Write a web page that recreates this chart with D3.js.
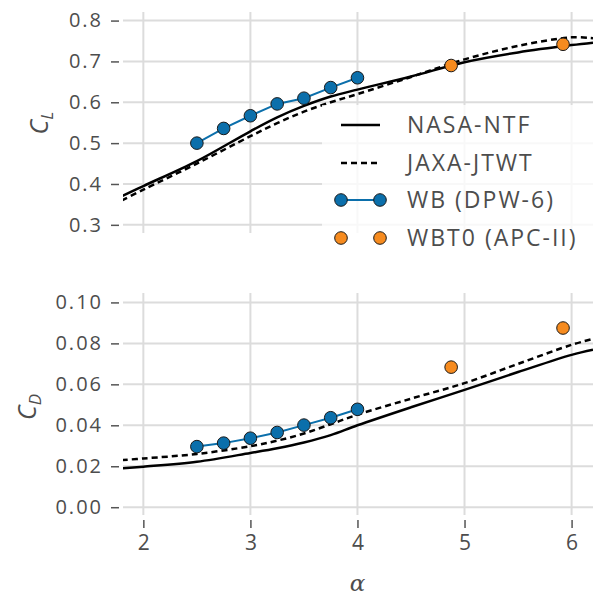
<!DOCTYPE html>
<html>
<head>
<meta charset="utf-8">
<script src="https://d3js.org/d3.v7.min.js"></script>
<style>
  body { margin: 0; background: #fff; }
  text { font-family: "Open Sans", sans-serif; fill: #4d4d4d; }
</style>
</head>
<body>
<script>
// angle of attack grid used by the two tunnel curves
let alphaCurve = [1.8, 2.0, 2.5, 3.0, 3.25, 3.5, 3.75, 4.0, 4.5, 5.0, 5.5, 6.0, 6.2];
let nasaCL = [0.370, 0.395, 0.456, 0.529, 0.563, 0.591, 0.614, 0.631, 0.663, 0.698, 0.722, 0.740, 0.746];
let jaxaCL = [0.360, 0.386, 0.450, 0.517, 0.549, 0.577, 0.600, 0.620, 0.662, 0.705, 0.738, 0.759, 0.757];
let nasaCD = [0.0190, 0.0198, 0.0222, 0.0265, 0.0288, 0.0316, 0.0352, 0.0400, 0.0488, 0.0573, 0.0660, 0.0744, 0.0769];
let jaxaCD = [0.0230, 0.0238, 0.0260, 0.0298, 0.0325, 0.0360, 0.0405, 0.0452, 0.0530, 0.0606, 0.0700, 0.0793, 0.0822];

let alphaWB = [2.5, 2.75, 3.0, 3.25, 3.5, 3.75, 4.0];
let wbCL = [0.500, 0.536, 0.567, 0.596, 0.610, 0.636, 0.660];
let wbCD = [0.0296, 0.0313, 0.0337, 0.0365, 0.0401, 0.0437, 0.0478];

let alphaWBT = [4.875, 5.92];
let wbtCL = [0.690, 0.742];
let wbtCD = [0.0684, 0.0875];

let xTicks = [2, 3, 4, 5, 6];
let clTicks = [0.3, 0.4, 0.5, 0.6, 0.7, 0.8];
let cdTicks = [0.00, 0.02, 0.04, 0.06, 0.08, 0.10];

let legendNames = ["NASA-NTF", "JAXA-JTWT", "WB (DPW-6)", "WBT0 (APC-II)"];

let W = 599, H = 597;
let blue = "#0b6fab", orange = "#f68b1f", grid = "#dcdcdc", tickCol = "#555";

let svg = d3.select("body").append("svg").attr("width", W).attr("height", H);

let x = d3.scaleLinear().domain([1.81, 6.2]).range([123, 593]);

let yCL = d3.scaleLinear().domain([0.28, 0.821]).range([233, 12]);
let yCD = d3.scaleLinear().domain([-0.0038, 0.1046]).range([515, 293]);

function panel(y, ticks, fmt, id, nasa, jaxa, wb, wbt, showX) {
    let g = svg.append("g");
    let [y0, y1] = y.range();

    g.append("clipPath").attr("id", id)
        .append("rect").attr("x", x.range()[0]).attr("y", y1)
        .attr("width", x.range()[1] - x.range()[0]).attr("height", y0 - y1);

    // grid
    g.selectAll(".hg").data(ticks).join("line")
        .attr("x1", x.range()[0]).attr("x2", x.range()[1])
        .attr("y1", d => y(d)).attr("y2", d => y(d))
        .attr("stroke", grid).attr("stroke-width", 2);
    g.selectAll(".vg").data(xTicks).join("line")
        .attr("x1", d => x(d)).attr("x2", d => x(d))
        .attr("y1", y1).attr("y2", y0)
        .attr("stroke", grid).attr("stroke-width", 2);

    // y axis, offset to the left
    let ya = g.append("g").attr("transform", "translate(119,0)")
        .call(d3.axisLeft(y).tickValues(ticks).tickFormat(fmt).tickSize(8).tickPadding(8));
    ya.select(".domain").remove();
    ya.selectAll(".tick line").attr("stroke", tickCol).attr("stroke-width", 1.5);
    ya.selectAll(".tick text").attr("font-size", 20).attr("letter-spacing", 2)
        .attr("fill", "#4d4d4d").style("font-family", "Open Sans");

    if (showX) {
        let xa = g.append("g").attr("transform", "translate(0,520)")
            .call(d3.axisBottom(x).tickValues(xTicks).tickFormat(d3.format("d")).tickSize(8).tickPadding(7));
        xa.select(".domain").remove();
        xa.selectAll(".tick line").attr("stroke", tickCol).attr("stroke-width", 1.5);
        xa.selectAll(".tick text").attr("font-size", 21).attr("fill", "#4d4d4d")
            .style("font-family", "Open Sans");
    }

    let line = d3.line().x(d => x(d[0])).y(d => y(d[1])).curve(d3.curveCatmullRom);
    let plot = g.append("g").attr("clip-path", `url(#${id})`);

    plot.append("path").datum(d3.zip(alphaCurve, nasa)).attr("d", line)
        .attr("fill", "none").attr("stroke", "#000").attr("stroke-width", 2.5);
    plot.append("path").datum(d3.zip(alphaCurve, jaxa)).attr("d", line)
        .attr("fill", "none").attr("stroke", "#000").attr("stroke-width", 2.5)
        .attr("stroke-dasharray", "6,4");

    let wbLine = d3.line().x(d => x(d[0])).y(d => y(d[1]));
    plot.append("path").datum(d3.zip(alphaWB, wb)).attr("d", wbLine)
        .attr("fill", "none").attr("stroke", blue).attr("stroke-width", 2);
    plot.selectAll(".wb").data(d3.zip(alphaWB, wb)).join("circle")
        .attr("cx", d => x(d[0])).attr("cy", d => y(d[1])).attr("r", 6.3)
        .attr("fill", blue).attr("stroke", "#1a1a1a").attr("stroke-width", 1);
    plot.selectAll(".wbt").data(d3.zip(alphaWBT, wbt)).join("circle")
        .attr("cx", d => x(d[0])).attr("cy", d => y(d[1])).attr("r", 6.3)
        .attr("fill", orange).attr("stroke", "#1a1a1a").attr("stroke-width", 1);
    return g;
}

panel(yCL, clTicks, d3.format(".1f"), "clipCL", nasaCL, jaxaCL, wbCL, wbtCL, false);
panel(yCD, cdTicks, d3.format(".2f"), "clipCD", nasaCD, jaxaCD, wbCD, wbtCD, true);

// axis labels
function ylab(cx, cy, sub) {
    let t = svg.append("text").attr("transform", `translate(${cx},${cy}) rotate(-90)`)
        .attr("text-anchor", "middle").attr("font-size", 25).attr("font-style", "italic")
        .attr("fill", "#4d4d4d");
    t.append("tspan").text("C");
    t.append("tspan").attr("font-size", 17).attr("dy", 5).text(sub);
}
ylab(48, 123, "L");
ylab(36, 407, "D");

svg.append("text").attr("x", x(4)).attr("y", 591).attr("text-anchor", "middle")
    .attr("font-size", 23).attr("font-style", "italic")
    .style("font-family", "DejaVu Serif").attr("fill", "#4d4d4d").text("α");

// legend
let lg = svg.append("g");
lg.append("rect").attr("x", 322).attr("y", 105).attr("width", 277).attr("height", 148)
    .attr("fill", "#fff").attr("opacity", 0.8);
let rowY = [125, 163, 200, 238];
let hx0 = 341, hx1 = 380;
legendNames.forEach((name, i) => {
    let yy = rowY[i];
    if (i < 2) {
        lg.append("line").attr("x1", hx0).attr("x2", hx1).attr("y1", yy).attr("y2", yy)
            .attr("stroke", "#000").attr("stroke-width", 2.5)
            .attr("stroke-dasharray", i === 1 ? "6,4" : null);
    } else {
        if (i === 2) {
            lg.append("line").attr("x1", hx0).attr("x2", hx1).attr("y1", yy).attr("y2", yy)
                .attr("stroke", blue).attr("stroke-width", 2);
        }
        [hx0, hx1].forEach(cx => lg.append("circle").attr("cx", cx).attr("cy", yy).attr("r", 6.3)
            .attr("fill", i === 2 ? blue : orange).attr("stroke", "#1a1a1a").attr("stroke-width", 1));
    }
    lg.append("text").attr("x", 407).attr("y", yy).attr("dy", "0.36em")
        .attr("font-size", 23).attr("letter-spacing", 2).text(name);
});
</script>
</body>
</html>
